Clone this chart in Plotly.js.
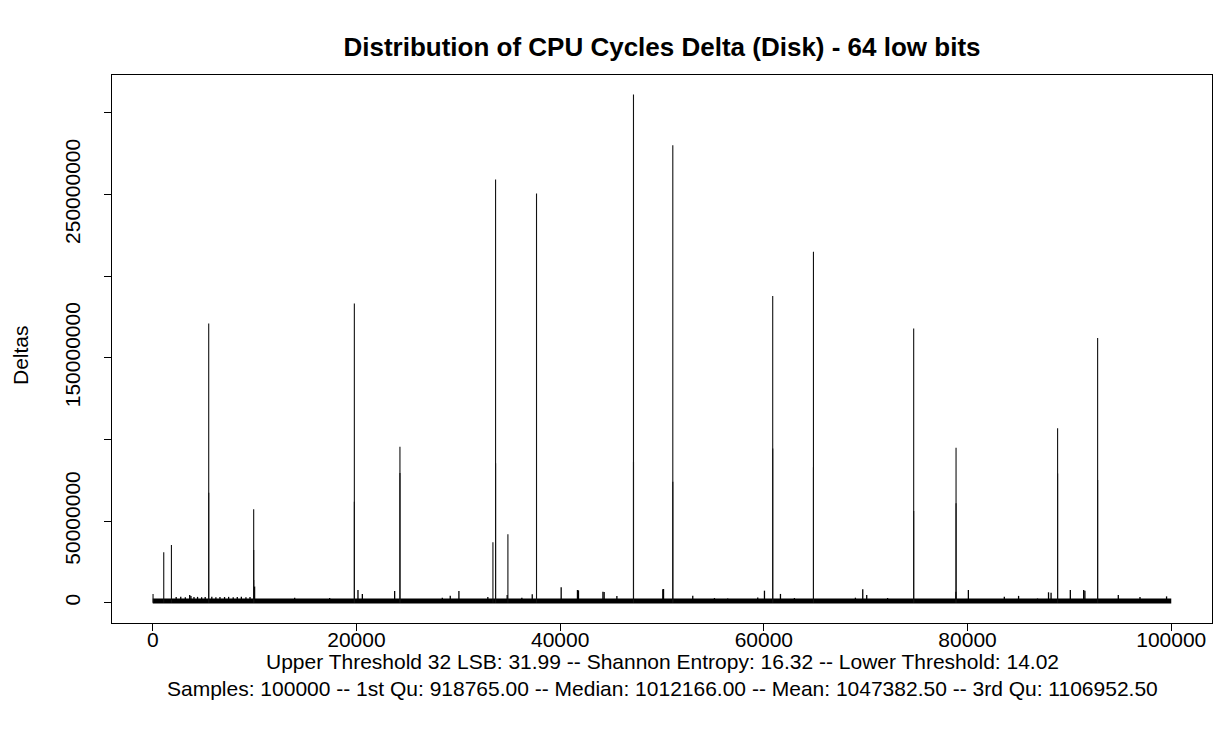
<!DOCTYPE html>
<html>
<head>
<meta charset="utf-8">
<script src="https://cdn.plot.ly/plotly-3.0.1.min.js"></script>
<style>html,body{margin:0;padding:0;background:#fff;}#chart{width:1218px;height:731px;}</style>
</head>
<body>
<div id="chart"></div>
<script>
// Notable samples (index, delta in CPU cycles)
const spikeX = [30, 1080, 1835, 5495, 5496, 9910, 9911, 9912, 19794, 19795, 24270, 24271,
  33400, 33660, 33661, 34870, 37680, 47200, 47201, 51060, 51061, 60870, 60871,
  64870, 64871, 74710, 74711, 78870, 78871, 88840, 88841, 92770, 92771];
const spikeY = [5.4e6, 30.9e6, 35.4e6, 171.0e6, 67.4e6, 57.2e6, 32.3e6, 14.0e6, 183.3e6, 61.9e6, 95.5e6, 79.4e6,
  37.0e6, 259.2e6, 85.4e6, 41.9e6, 250.6e6, 311.2e6, 86.4e6, 280.2e6, 74.1e6, 187.8e6, 94.5e6,
  214.9e6, 82.9e6, 168.0e6, 56.2e6, 94.9e6, 60.9e6, 106.8e6, 79.2e6, 162.2e6, 75.1e6];

// Small deltas just above the bulk of samples
const smallX = [2300, 2750, 3200, 3630, 3750, 4050, 4400, 4800, 5150, 5800, 6200, 6600, 7050, 7450, 7900,
  8300, 8700, 9150, 9550, 10000, 13935, 17370, 20150, 20580, 23750, 28430, 29210, 30060, 32900,
  34800, 36240, 37260, 40100, 41700, 41800, 44200, 44320, 45570, 50080, 50150, 53020, 55150,
  56450, 59400, 60060, 61630, 63000, 68990, 69710, 70100, 72150, 78850, 80080, 83610, 85010,
  86870, 87950, 88200, 90090, 91400, 91520, 94800, 96930, 99540];
const smallY = [3.5e6, 3.6e6, 3.4e6, 4.8e6, 4.2e6, 3.5e6, 3.6e6, 3.4e6, 3.5e6, 3.6e6, 3.4e6, 3.5e6, 3.5e6, 3.6e6, 3.4e6,
  3.5e6, 3.6e6, 3.4e6, 3.5e6, 9.9e6, 3.1e6, 2.9e6, 7.8e6, 5.4e6, 7.2e6, 3.1e6, 4.3e6, 7.2e6, 3.5e6,
  4.8e6, 3.1e6, 5.2e6, 9.5e6, 7.8e6, 7.6e6, 6.8e6, 6.6e6, 4.2e6, 8.3e6, 8.4e6, 4.3e6, 2.9e6,
  2.6e6, 3.2e6, 7.4e6, 5.4e6, 2.9e6, 3.1e6, 8.3e6, 4.8e6, 2.9e6, 6.8e6, 7.8e6, 3.7e6, 4.2e6,
  2.6e6, 6.4e6, 6.2e6, 7.8e6, 7.8e6, 7.4e6, 4.8e6, 3.5e6, 3.9e6];

// Bulk of the 100000 samples sits around the median
const bulkX = [1, 100000];
const bulkY = [1012166, 1012166];

const xTicks = [0, 20000, 40000, 60000, 80000, 100000];
const xTickLabels = ["0", "20000", "40000", "60000", "80000", "100000"];
const yTicks = [0, 50000000, 100000000, 150000000, 200000000, 250000000, 300000000];
const yTickLabels = ["0", "50000000", "", "150000000", "", "250000000", ""];

const titleText = "Distribution of CPU Cycles Delta (Disk) - 64 low bits";
const subLine1 = "Upper Threshold 32 LSB: 31.99 -- Shannon Entropy: 16.32 -- Lower Threshold: 14.02";
const subLine2 = "Samples: 100000 -- 1st Qu: 918765.00 -- Median: 1012166.00 -- Mean: 1047382.50 -- 3rd Qu: 1106952.50";

function hLines(xs, ys) {
  const X = [], Y = [];
  for (let i = 0; i < xs.length; i++) { X.push(xs[i], xs[i], null); Y.push(0, ys[i], null); }
  return {X, Y};
}
const big = hLines(spikeX, spikeY);
const small = hLines(smallX, smallY);

const FONT = "Liberation Sans, Arial, Helvetica, sans-serif";
const FS = 21;

const traces = [
  {x: bulkX, y: bulkY, type: "scatter", mode: "lines", line: {color: "#000", width: 5}, hoverinfo: "skip"},
  {x: small.X, y: small.Y, type: "scatter", mode: "lines", line: {color: "#000", width: 1.3}, connectgaps: false, hoverinfo: "skip"},
  {x: big.X, y: big.Y, type: "scatter", mode: "lines", line: {color: "#111", width: 1.1}, connectgaps: false, hoverinfo: "skip"}
];

const layout = {
  width: 1218, height: 731,
  margin: {l: 112, r: 6, t: 75, b: 108, pad: 0},
  paper_bgcolor: "#fff", plot_bgcolor: "#fff",
  showlegend: false,
  font: {family: FONT, color: "#000", size: FS},
  title: {text: "<b>" + titleText + "</b>", font: {family: FONT, size: 26, color: "#000"},
          x: 0.5, xref: "paper", xanchor: "center", y: 1 - 47/731, yref: "container", yanchor: "middle"},
  xaxis: {range: [-4000, 104000], tickvals: xTicks, ticktext: xTickLabels, ticks: "outside", ticklen: 7,
          tickcolor: "#000", tickwidth: 1, showgrid: false, zeroline: false, showline: true, mirror: true,
          linecolor: "#000", linewidth: 1, ticklabelstandoff: -9,
          tickfont: {family: FONT, size: FS, color: "#000"}},
  yaxis: {range: [-12.4e6, 323.2e6], tickvals: yTicks, ticktext: yTickLabels, ticks: "outside", ticklen: 7,
          tickcolor: "#000", tickwidth: 1, showgrid: false, zeroline: false, showline: true, mirror: true,
          linecolor: "#000", linewidth: 1, tickangle: -90, ticklabelstandoff: 16,
          tickfont: {family: FONT, size: FS, color: "#000"}},
  annotations: [
    {text: "Deltas", xref: "paper", yref: "paper", x: 0, y: 0.5, xshift: -92, yshift: -6, textangle: -90,
     showarrow: false, xanchor: "center", yanchor: "middle", font: {family: FONT, size: FS, color: "#000"}},
    {text: subLine1, xref: "paper", yref: "paper", x: 0.5, y: 0, yshift: -(661 - 623), showarrow: false,
     xanchor: "center", yanchor: "middle", font: {family: FONT, size: FS, color: "#000"}},
    {text: subLine2, xref: "paper", yref: "paper", x: 0.5, y: 0, yshift: -(688 - 623), showarrow: false,
     xanchor: "center", yanchor: "middle", font: {family: FONT, size: FS, color: "#000"}}
  ]
};

Plotly.newPlot("chart", traces, layout, {staticPlot: true, displayModeBar: false});
</script>
</body>
</html>
